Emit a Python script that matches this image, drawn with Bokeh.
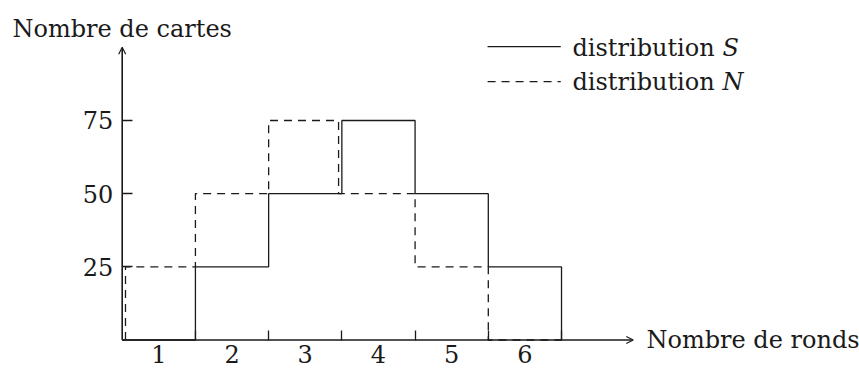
import numpy as np
from bokeh.plotting import figure
from bokeh.models import Range1d, FixedTicker, Arrow, OpenHead, Label
from bokeh.embed import file_html
from bokeh.resources import INLINE

# ---- data ----
categories = [1, 2, 3, 4, 5, 6]
dist_S = [0, 25, 50, 75, 50, 25]
dist_N = [25, 50, 75, 50, 25, 0]
y_ticks = [25, 50, 75]
x_title = "Nombre de ronds"
y_title = "Nombre de cartes"
legend_words = ["distribution", "distribution"]
legend_symbols = ["S", "N"]

# ---- style ----
FONT = "DejaVu Serif"
FS = "24px"
INK = "#1a1a1a"
W, H = 859, 369
PX_X = 73.22          # pixels per category
PX_Y = 2.927          # pixels per card
x0 = 0.5 - 121.7 / PX_X
x1 = x0 + W / PX_X
y1 = 339.5 / PX_Y
y0 = y1 - H / PX_Y

p = figure(width=W, height=H, x_range=Range1d(x0, x1), y_range=Range1d(y0, y1),
           output_backend="svg", toolbar_location=None, min_border=0,
           outline_line_color=None, background_fill_color="white",
           border_fill_color="white")
p.xgrid.visible = False
p.ygrid.visible = False

cats = np.array(categories, dtype=float)
edges = np.concatenate([cats - 0.5, [cats[-1] + 0.5]])
S_ext = np.r_[0, dist_S, 0]
N_ext = np.r_[0, dist_N, 0]


def outline(ext, xe):
    xs, ys = [], []
    for i, e in enumerate(xe):
        xs += [e, e]
        ys += [ext[i], ext[i + 1]]
    return xs, ys


# shift dashed verticals that would sit on top of a solid line
d = 0.045
shift = np.zeros(len(edges))
for i in range(len(edges)):
    lo_n, hi_n = sorted(N_ext[i:i + 2])
    if hi_n <= lo_n:
        continue
    if i == 0:
        lo_s, hi_s = 0, np.inf
    else:
        lo_s, hi_s = sorted(S_ext[i:i + 2])
    if min(hi_n, hi_s) - max(lo_n, lo_s) > 0:
        shift[i] = d if N_ext[i + 1] > N_ext[i] else -d

xs_S, ys_S = outline(S_ext, edges)
xs_N, ys_N = outline(N_ext, edges + shift)

p.line(xs_N, ys_N, line_color=INK, line_width=1.3, line_dash="8 6")
p.line(xs_S, ys_S, line_color=INK, line_width=1.3)

# ---- axes ----
xa = p.xaxis[0]
xa.fixed_location = 0
xa.axis_line_color = None
xa.ticker = FixedTicker(ticks=categories, minor_ticks=list(edges[1:]))
xa.major_tick_in = 0
xa.major_tick_out = 0
xa.minor_tick_in = 10
xa.minor_tick_out = 0
xa.minor_tick_line_color = INK
xa.minor_tick_line_width = 1.3
xa.major_label_standoff = 5
xa.major_label_text_font = FONT
xa.major_label_text_font_size = FS
xa.major_label_text_color = INK

ya = p.yaxis[0]
ya.fixed_location = 0.5
ya.axis_line_color = None
ya.ticker = FixedTicker(ticks=y_ticks)
ya.major_tick_in = 10
ya.major_tick_out = 0
ya.major_tick_line_color = INK
ya.major_tick_line_width = 1.3
ya.minor_tick_line_color = None
ya.major_label_standoff = 9
ya.major_label_text_font = FONT
ya.major_label_text_font_size = FS
ya.major_label_text_color = INK

# axis lines with arrow heads
p.add_layout(Arrow(x_start=edges[0], y_start=0, x_end=7.48, y_end=0,
                   line_color=INK, line_width=1.6,
                   end=OpenHead(size=7, line_color=INK, line_width=1.2)))
p.add_layout(Arrow(x_start=edges[0], y_start=0, x_end=edges[0], y_end=100,
                   line_color=INK, line_width=1.6,
                   end=OpenHead(size=7, line_color=INK, line_width=1.2)))

# axis titles
p.add_layout(Label(x=edges[0], y=106.1, text=y_title, text_align="center",
                   text_baseline="middle", text_font=FONT,
                   text_font_size=FS, text_color=INK))
p.add_layout(Label(x=7.66, y=0, text=x_title, text_align="left",
                   text_baseline="middle", text_font=FONT,
                   text_font_size=FS, text_color=INK))

# legend
leg_line_y = [100.2, 88.3]
leg_text_y = [99.9, 88.0]
leg_dash = ["solid", "8 6"]
for k in range(2):
    p.add_layout(Arrow(x_start=5.49, y_start=leg_line_y[k], x_end=6.49,
                       y_end=leg_line_y[k], end=None, line_color=INK,
                       line_width=1.3, line_dash=leg_dash[k]))
    p.add_layout(Label(x=6.65, y=leg_text_y[k], text=legend_words[k],
                       text_align="left", text_baseline="middle",
                       text_font=FONT, text_font_size=FS, text_color=INK))
    p.add_layout(Label(x=8.70, y=leg_text_y[k], text=legend_symbols[k],
                       text_align="left", text_baseline="middle",
                       text_font=FONT, text_font_size=FS, text_color=INK,
                       text_font_style="italic"))

open("out.html", "w").write(file_html(p, INLINE))
